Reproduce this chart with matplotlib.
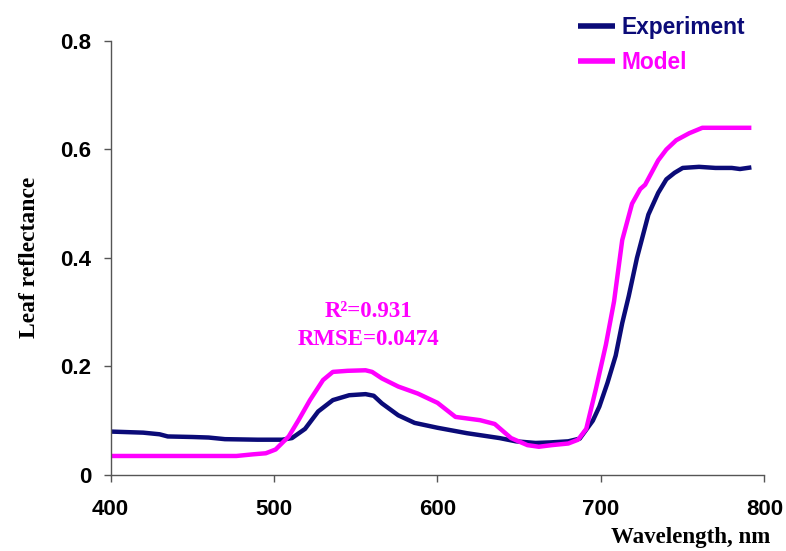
import numpy as np
import matplotlib.pyplot as plt

# wavelength (nm) and reflectance
wl_exp = [400, 410, 420, 430, 435, 450, 460, 470, 490, 505, 511, 519, 527, 536, 546, 556, 561, 566, 576, 586,
          600, 618, 638, 648, 660, 669, 680, 687, 695, 699, 704, 709, 713, 717, 722, 729, 735, 740, 745, 750,
          760, 770, 780, 785, 792]
r_exp = [0.080, 0.079, 0.078, 0.075, 0.071, 0.070, 0.069, 0.066, 0.065, 0.065, 0.068, 0.085, 0.117, 0.138, 0.147, 0.149, 0.146, 0.132, 0.110, 0.096,
         0.087, 0.077, 0.068, 0.062, 0.059, 0.060, 0.062, 0.067, 0.100, 0.126, 0.170, 0.220, 0.280, 0.330, 0.400, 0.480, 0.520, 0.545, 0.557, 0.566,
         0.568, 0.566, 0.566, 0.564, 0.567]

wl_mod = [400, 440, 477, 487, 495, 501, 509, 515, 522, 530, 536, 545, 556, 560, 566, 576, 588, 600, 611, 626,
          635, 645, 655, 662, 670, 680, 686, 691, 697, 703, 708, 713, 719, 724, 727, 735, 740, 746, 754, 762,
          775, 792]
r_mod = [0.035, 0.035, 0.035, 0.038, 0.040, 0.047, 0.071, 0.101, 0.138, 0.175, 0.190, 0.192, 0.193, 0.190, 0.178, 0.163, 0.150, 0.133, 0.107, 0.101,
         0.094, 0.068, 0.055, 0.052, 0.055, 0.058, 0.065, 0.085, 0.160, 0.240, 0.320, 0.433, 0.500, 0.527, 0.535, 0.580, 0.600, 0.617, 0.630, 0.640,
         0.640, 0.640]

navy = '#0b0b78'
magenta = '#ff00ff'

fig = plt.figure(figsize=(7.86, 5.51), dpi=100)
ax = fig.add_axes([0.1406, 0.138, 0.832, 0.7876])

ax.plot(wl_exp, r_exp, color=navy, lw=3.2, solid_capstyle='butt')
ax.plot(wl_mod, r_mod, color=magenta, lw=3.2, solid_capstyle='butt')

ax.set_xlim(400, 800)
ax.set_ylim(0, 0.8)
ax.set_xticks([400, 500, 600, 700, 800])
ax.set_yticks([0, 0.2, 0.4, 0.6, 0.8])
ax.set_yticklabels(['0', '0.2', '0.4', '0.6', '0.8'])

for s in ['top', 'right']:
    ax.spines[s].set_visible(False)
for s in ['left', 'bottom']:
    ax.spines[s].set_color('#555555')
    ax.spines[s].set_linewidth(1.0)
ax.tick_params(direction='out', length=5, width=1.0, color='#555555')
ax.tick_params(axis='x', pad=12)
ax.tick_params(axis='y', pad=9)
for lbl in ax.get_xticklabels() + ax.get_yticklabels():
    lbl.set_fontfamily('Liberation Sans')
    lbl.set_fontweight('bold')
    lbl.set_fontsize(16)

fig.text(0.037, 0.532, 'Leaf reflectance', fontfamily='Liberation Serif', fontweight='bold',
         fontsize=17, rotation=90, ha='center', va='center')
fig.text(0.98, 0.0236, 'Wavelength, nm', fontfamily='Liberation Serif', fontweight='bold',
         fontsize=16.5, ha='right', va='center')

ax.text(558, 0.301, 'R²=0.931', color=magenta, fontfamily='Liberation Serif', fontweight='bold',
        fontsize=16.5, ha='center', va='center')
ax.text(558, 0.249, 'RMSE=0.0474', color=magenta, fontfamily='Liberation Serif', fontweight='bold',
        fontsize=16.5, ha='center', va='center')

leg = ax.legend(['Experiment', 'Model'], loc='upper left', bbox_to_anchor=(0.7354, 0.971),
                bbox_transform=fig.transFigure, frameon=False, borderpad=0, borderaxespad=0,
                handlelength=1.62, handletextpad=0.3, labelspacing=0.52,
                prop={'family': 'Liberation Sans', 'weight': 'bold', 'size': 16.4})
for t, c in zip(leg.get_texts(), [navy, magenta]):
    t.set_color(c)
for h in leg.get_lines():
    h.set_linewidth(4)

plt.savefig('out.png', dpi=100)
